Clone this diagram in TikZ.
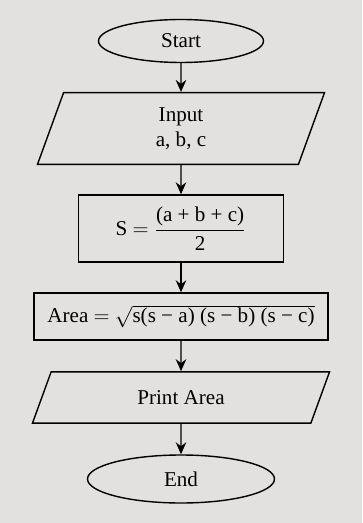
\documentclass[tikz,border=0pt]{standalone}
\usepackage{amsmath}
\usepackage{fontspec}
\setmainfont{Liberation Serif}
\usepackage{tikz}
\usetikzlibrary{shapes,arrows.meta,positioning}

\definecolor{paper}{RGB}{226,225,223}

\begin{document}
\begin{tikzpicture}[
    terminal/.style={ellipse, draw, thick, minimum width=3.3cm, minimum height=0.86cm, font=\fontsize{12}{14}\selectfont},
    io/.style={trapezium, trapezium left angle=70, trapezium right angle=110, trapezium stretches body, inner ysep=0.3cm, draw, thick, align=center, font=\fontsize{12}{14}\selectfont},
    process/.style={rectangle, draw, thick, align=center, font=\fontsize{12}{14}\selectfont},
    arrow/.style={-{Stealth[length=2.4mm,width=2.1mm]}, thick},
]

% Paper
\fill[paper] (0,0) rectangle (7.24,-10.46);
\useasboundingbox (0,0) rectangle (7.24,-10.46);

% Flow
\node[terminal] (start) at (3.62,-0.82) {Start};
\node[io, minimum width=5.74cm] (input) at (3.62,-2.57) {Input\\a, b, c};
\node[process, minimum width=4.1cm, minimum height=1.34cm] (semi) at (3.62,-4.57)
    {S $=$ $\dfrac{\text{(a + b + c)}}{\text{2}}$};
\node[process, minimum width=5.88cm, minimum height=0.94cm, inner sep=2pt] (area) at (3.62,-6.33)
    {Area $=$ $\sqrt{\text{s(s − a) (s − b) (s − c)}}$};
\node[io, minimum width=5.94cm, inner ysep=0.37cm] (print) at (3.62,-7.95) {Print Area};
\node[terminal, minimum width=3.74cm, minimum height=0.96cm] (end) at (3.62,-9.58) {End};

% Arrows
\draw[arrow] (start) -- (input);
\draw[arrow] (input) -- (semi);
\draw[arrow] (semi) -- (area);
\draw[arrow] (area) -- (print);
\draw[arrow] (print) -- (end);

\end{tikzpicture}
\end{document}
